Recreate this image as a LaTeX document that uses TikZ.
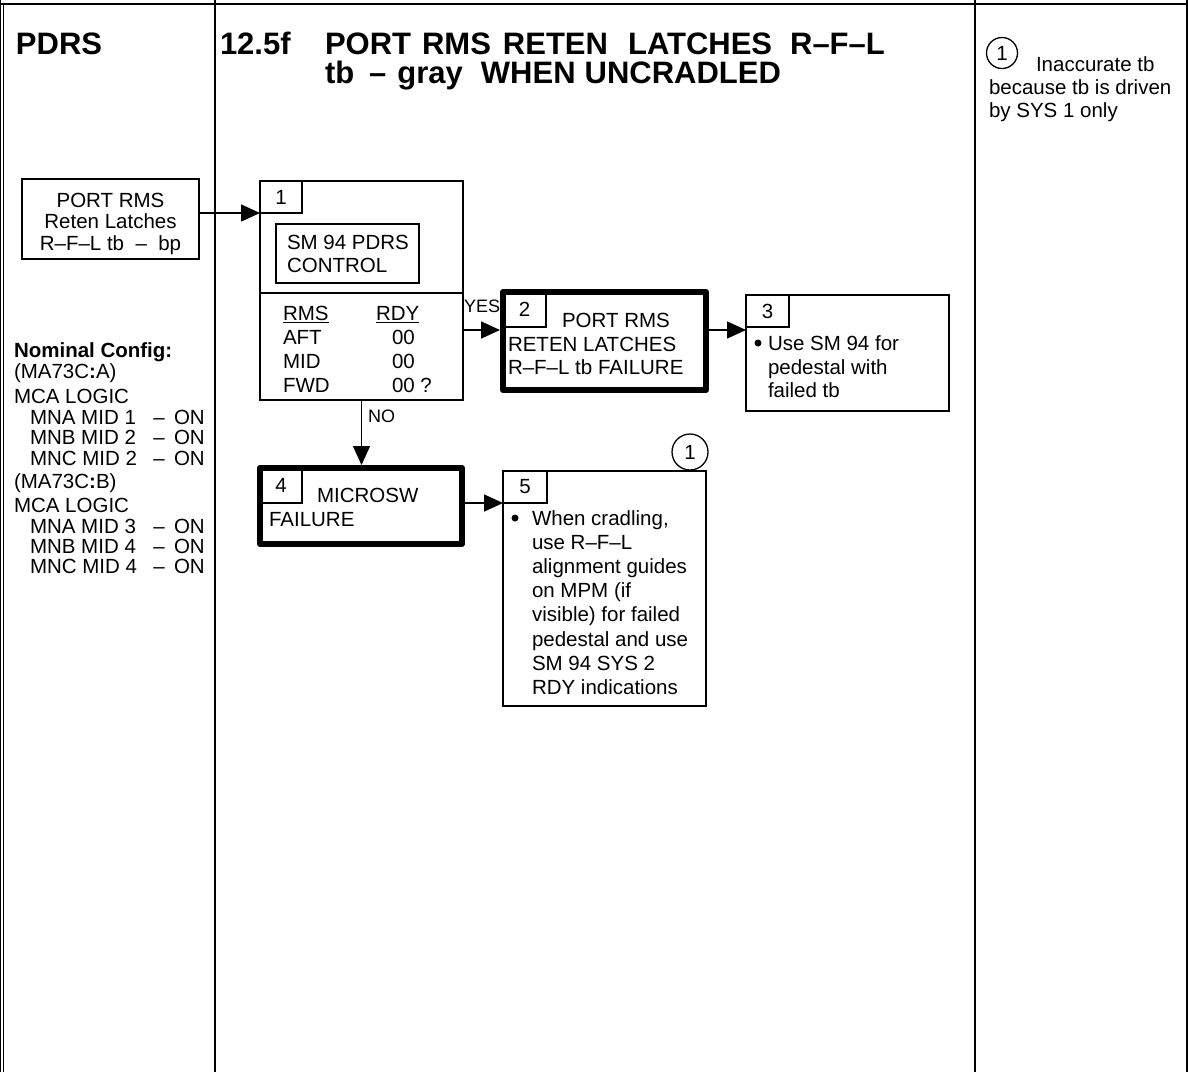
\documentclass[tikz,border=0pt]{standalone}
\usepackage{fontspec}
\setmainfont{Liberation Sans}
\usetikzlibrary{arrows.meta}
\newcommand\myNF{\fontsize{20.5}{24}\selectfont}
\newcommand\mySF{\fontsize{18}{20}\selectfont}
\newcommand\myTF{\fontsize{31}{34}\selectfont\bfseries}
\begin{document}
\begin{tikzpicture}[x=1pt,y=-1pt,
  every node/.style={inner sep=0pt, outer sep=0pt},
  frame/.style={line width=2pt},
  box/.style={draw, line width=1.4pt, rectangle, inner sep=0pt, font=\myNF},
  thickbox/.style={draw, line width=6pt, line join=round, rectangle, outer sep=3pt},
  arr/.style={line width=1.5pt, -{Triangle[length=19pt,width=17pt]}},
  tx/.style={anchor=base west, font=\myNF},
  txc/.style={anchor=base, font=\myNF},
  lbl/.style={anchor=base west, font=\mySF},
  ttl/.style={anchor=base west, font=\myTF},
  numcirc/.style={draw, circle, line width=1.3pt, font=\myNF},
  uline/.style={line width=1.2pt}]
\useasboundingbox (0,0) rectangle (1188,1072);
% frame
\draw[line width=1.4pt] (0.7,0) -- (0.7,1072);
\draw[line width=1pt] (3,4) -- (3,1072);
\draw[frame] (0,4) -- (1188,4);
\draw[frame] (214.5,0) -- (214.5,1072);
\draw[frame] (975,0) -- (975,1072);
\draw[frame] (1186.5,0) -- (1186.5,1072);
% titles
\node[ttl] (tpdrs) at (16,54) {PDRS};
\node[ttl] (tnum) at (220,54) {12.5f};
\node[ttl] (tl1) at (325,54) {PORT\hspace*{11pt}RMS\hspace*{12pt}RETEN\hspace*{20pt}LATCHES\hspace*{18pt}R–F–L};
\node[ttl] (tl2) at (325,83) {tb\hspace*{15pt}–\hspace*{11pt}gray\hspace*{18pt}WHEN\hspace*{9pt}UNCRADLED};
% right column note
\node[numcirc, minimum size=31pt] (cr) at (1002,53) {1};
\node[tx] (n1) at (1036,71) {Inaccurate tb};
\node[tx] (n2) at (989,94) {because tb is driven};
\node[tx] (n3) at (989,117) {by SYS 1 only};
% input box
\node[box, minimum width=177pt, minimum height=80pt] (inbox) at (110.5,219) {};
\node[txc] (in1) at (110.5,207) {PORT RMS};
\node[txc] (in2) at (110.5,228) {Reten Latches};
\node[txc] (in3) at (110.5,250) {R–F–L tb \ – \ bp};
% box 1
\node[box, minimum width=203pt, minimum height=219pt] (b1) at (361.5,290.5) {};
\node[box, minimum width=42pt, minimum height=32pt] (b1num) at (281,197) {1};
\node[box, minimum width=143pt, minimum height=59pt] (b1in) at (347.5,253.5) {};
\node[tx] (b1t1) at (287,249) {SM 94 PDRS};
\node[tx] (b1t2) at (287,272) {CONTROL};
\coordinate (div) at (0,293);
\draw[line width=1.8pt] (b1.west |- div) -- (b1.east |- div);
\node[tx] (rms) at (283,320) {RMS};
\node[tx] (rdy) at (376,320) {RDY};
\draw[uline] ([yshift=-2.5pt]rms.base west) -- ([yshift=-2.5pt]rms.base east);
\draw[uline] ([yshift=-2.5pt]rdy.base west) -- ([yshift=-2.5pt]rdy.base east);
\node[tx] (aft) at (283,344) {AFT};
\node[tx] (mid) at (283,368) {MID};
\node[tx] (fwd) at (283,392) {FWD};
\node[tx] (v1) at (392,344) {00};
\node[tx] (v2) at (392,368) {00};
\node[tx] (v3) at (392,392) {00 ?};
% box 2
\node[thickbox, minimum width=203pt, minimum height=98pt] (b2) at (604.5,341) {};
\node[box, minimum width=43pt, minimum height=35pt] (b2num) at (524.5,309.5) {2};
\node[tx] (b2t1) at (562,327) {PORT RMS};
\node[tx] (b2t2) at (508,351) {RETEN LATCHES};
\node[tx] (b2t3) at (508,374) {R–F–L tb FAILURE};
% box 3
\node[box, minimum width=203pt, minimum height=116pt] (b3) at (847.5,353) {};
\node[box, minimum width=43pt, minimum height=32pt] (b3num) at (767.5,311) {3};
\fill (758,343) circle (3.5pt);
\node[tx] (b3t1) at (768,350) {Use SM 94 for};
\node[tx] (b3t2) at (768,374) {pedestal with};
\node[tx] (b3t3) at (768,397) {failed tb};
% box 4
\node[thickbox, minimum width=202pt, minimum height=76pt] (b4) at (361,506) {};
\node[box, minimum width=42pt, minimum height=35pt] (b4num) at (281,485.5) {4};
\node[tx] (b4t1) at (317,502) {MICROSW};
\node[tx] (b4t2) at (269,526) {FAILURE};
% box 5
\node[box, minimum width=203pt, minimum height=235pt] (b5) at (604.5,588.5) {};
\node[box, minimum width=44pt, minimum height=32pt] (b5num) at (525,487) {5};
\node[numcirc, minimum size=36pt] (c5) at (690,452) {1};
\fill (515,518) circle (3.5pt);
\node[tx] (b5t1) at (532,525) {When cradling,};
\node[tx] (b5t2) at (532,549) {use R–F–L};
\node[tx] (b5t3) at (532,573) {alignment guides};
\node[tx] (b5t4) at (532,597) {on MPM (if};
\node[tx] (b5t5) at (532,621) {visible) for failed};
\node[tx] (b5t6) at (532,646) {pedestal and use};
\node[tx] (b5t7) at (532,670) {SM 94 SYS 2};
\node[tx] (b5t8) at (532,694) {RDY indications};
% connectors
\draw[arr] (inbox.east |- b1num.south west) -- (b1num.south west);
\coordinate (yesrow) at (0,330);
\draw[arr] (b1.east |- yesrow) -- (b2.west |- yesrow);
\node[lbl] (yes) at (464,312) {YES};
\draw[arr] (b2.east |- yesrow) -- (b3.west |- yesrow);
\draw[arr] (b1.south) -- (b1.south |- b4.north);
\node[lbl] (no) at (368,422) {NO};
\draw[arr] (b4.east |- b5num.south west) -- (b5num.south west);
% left column
\node[tx, font=\myNF\bfseries] (nc) at (14,357) {Nominal Config:};
\node[tx] (ca) at (14,378) {(MA73C\textbf{:}A)};
\node[tx] (la) at (14,403) {MCA LOGIC};
\node[tx] (a1) at (30,424) {MNA MID 1};
\node[txc] (a1d) at (159,424) {–};
\node[tx] (a1o) at (174,424) {ON};
\node[tx] (a2) at (30,444) {MNB MID 2};
\node[txc] (a2d) at (159,444) {–};
\node[tx] (a2o) at (174,444) {ON};
\node[tx] (a3) at (30,465) {MNC MID 2};
\node[txc] (a3d) at (159,465) {–};
\node[tx] (a3o) at (174,465) {ON};
\node[tx] (cb) at (14,488) {(MA73C\textbf{:}B)};
\node[tx] (lb) at (14,512) {MCA LOGIC};
\node[tx] (b1l) at (30,533) {MNA MID 3};
\node[txc] (b1d) at (159,533) {–};
\node[tx] (b1o) at (174,533) {ON};
\node[tx] (b2l) at (30,553) {MNB MID 4};
\node[txc] (b2d) at (159,553) {–};
\node[tx] (b2o) at (174,553) {ON};
\node[tx] (b3l) at (30,573) {MNC MID 4};
\node[txc] (b3d) at (159,573) {–};
\node[tx] (b3o) at (174,573) {ON};
\end{tikzpicture}
\end{document}
